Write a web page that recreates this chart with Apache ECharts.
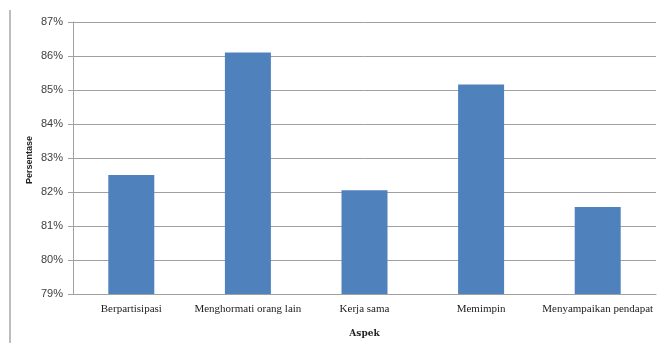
<!DOCTYPE html>
<html>
<head>
<meta charset="utf-8">
<script src="https://cdn.jsdelivr.net/npm/echarts@6/dist/echarts.min.js"></script>
<style>
  html, body { margin: 0; padding: 0; background: #fff; }
  #chart { width: 657px; height: 343px; }
</style>
</head>
<body>
<div id="chart"></div>
<script>
// Aspects and their percentages
const categories = ['Berpartisipasi', 'Menghormati orang lain', 'Kerja sama', 'Memimpin', 'Menyampaikan pendapat'];
const values = [82.5, 86.1, 82.05, 85.16, 81.56];
const yMin = 79;
const yMax = 87;
const yAxisTitle = 'Persentase';
const xAxisTitle = 'Aspek';

const chart = echarts.init(document.getElementById('chart'), null, { renderer: 'canvas' });

chart.setOption({
  animation: false,
  backgroundColor: '#ffffff',
  graphic: [{
    type: 'line',
    shape: { x1: 10, y1: 10, x2: 10, y2: 343 },
    style: { stroke: '#bdbdbd', lineWidth: 2 }
  }, {
    // vertical axis title, placed beside the tick labels
    type: 'text',
    x: 30,
    y: 160,
    rotation: Math.PI / 2,
    style: {
      text: yAxisTitle,
      fontFamily: 'Liberation Sans',
      fontWeight: 'bold',
      fontSize: 9,
      fill: '#222',
      align: 'center',
      verticalAlign: 'middle'
    }
  }],
  grid: { left: 73, right: 1, top: 22, bottom: 48, containLabel: false },
  xAxis: {
    type: 'category',
    data: categories,
    name: xAxisTitle,
    nameLocation: 'middle',
    nameGap: 35,
    nameTextStyle: { fontFamily: 'DejaVu Serif', fontWeight: 'bold', fontSize: 9, color: '#222' },
    axisLine: { lineStyle: { color: '#a0a0a0', width: 1 } },
    axisTick: { show: false },
    axisLabel: { fontFamily: 'Liberation Serif', fontSize: 11, color: '#222', margin: 10, interval: 0 }
  },
  yAxis: {
    type: 'value',
    min: yMin,
    max: yMax,
    interval: 1,
    axisLine: { show: true, lineStyle: { color: '#a0a0a0', width: 1 } },
    axisTick: { show: true, length: 5, lineStyle: { color: '#a0a0a0' } },
    axisLabel: {
      fontFamily: 'Liberation Sans', fontSize: 11, color: '#404040', margin: 10,
      formatter: v => v + '%'
    },
    splitLine: { show: true, lineStyle: { color: '#a0a0a0', width: 1 } }
  },
  series: [{
    type: 'bar',
    data: values,
    barWidth: 46,
    itemStyle: { color: '#4f81bd' }
  }]
});
</script>
</body>
</html>
